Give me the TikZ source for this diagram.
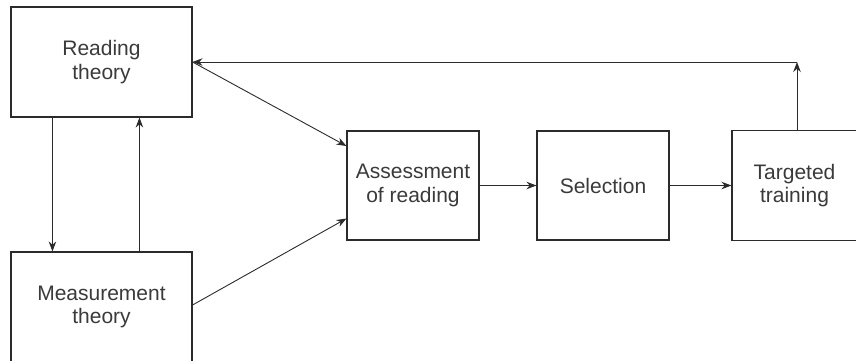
\documentclass[tikz,border=0pt]{standalone}
\usepackage{fontspec}
\setmainfont{Liberation Sans}
\usetikzlibrary{arrows.meta,calc}
\definecolor{ink}{HTML}{2B2B2B}
\definecolor{type}{HTML}{3A3A3A}
\begin{document}
\begin{tikzpicture}[x=1pt,y=-1pt,
  box/.style={draw=ink,line width=1.1pt,rectangle,inner sep=0pt,align=center,
    text=type,font=\fontsize{21}{23.5}\selectfont},
  link/.style={draw=ink,line width=0.9pt,-{Stealth[length=10pt,width=7.5pt]}}]
\useasboundingbox (0,0) rectangle (856,361);
\clip (0,0) rectangle (856,361);
% boxes
\node[box,minimum width=181pt,minimum height=110pt] (rt) at (101.5,62) {Reading\\theory};
\node[box,minimum width=181pt,minimum height=110pt] (mt) at (101.5,307) {Measurement\\theory};
\node[box,minimum width=132pt,minimum height=109pt] (as) at (413,185.5) {Assessment\\of reading};
\node[box,minimum width=132pt,minimum height=109pt] (se) at (603,185.5) {Selection};
\node[box,minimum width=125pt,minimum height=110pt] (tt) at (794.5,185.5) {Targeted\\training};
\coordinate (corner) at (797,62);
% links between theories
\draw[link] ($(rt.south west)+(42,0)$) -- ($(mt.north west)+(42,0)$);
\draw[link] ($(mt.north west)+(129,0)$) -- ($(rt.south west)+(129,0)$);
% into assessment
\draw[link] (rt.east) -- ($(as.west)+(0,-39.5)$);
\draw[link] ($(mt.east)+(0,-2)$) -- ($(as.west)+(0,33)$);
% main chain
\draw[link] (as.east) -- (se.west);
\draw[link] (se.east) -- (tt.west);
% feedback loop
\draw[link] (tt.north -| corner) -- (corner);
\draw[link] (corner) -- (rt.east);
\end{tikzpicture}
\end{document}
